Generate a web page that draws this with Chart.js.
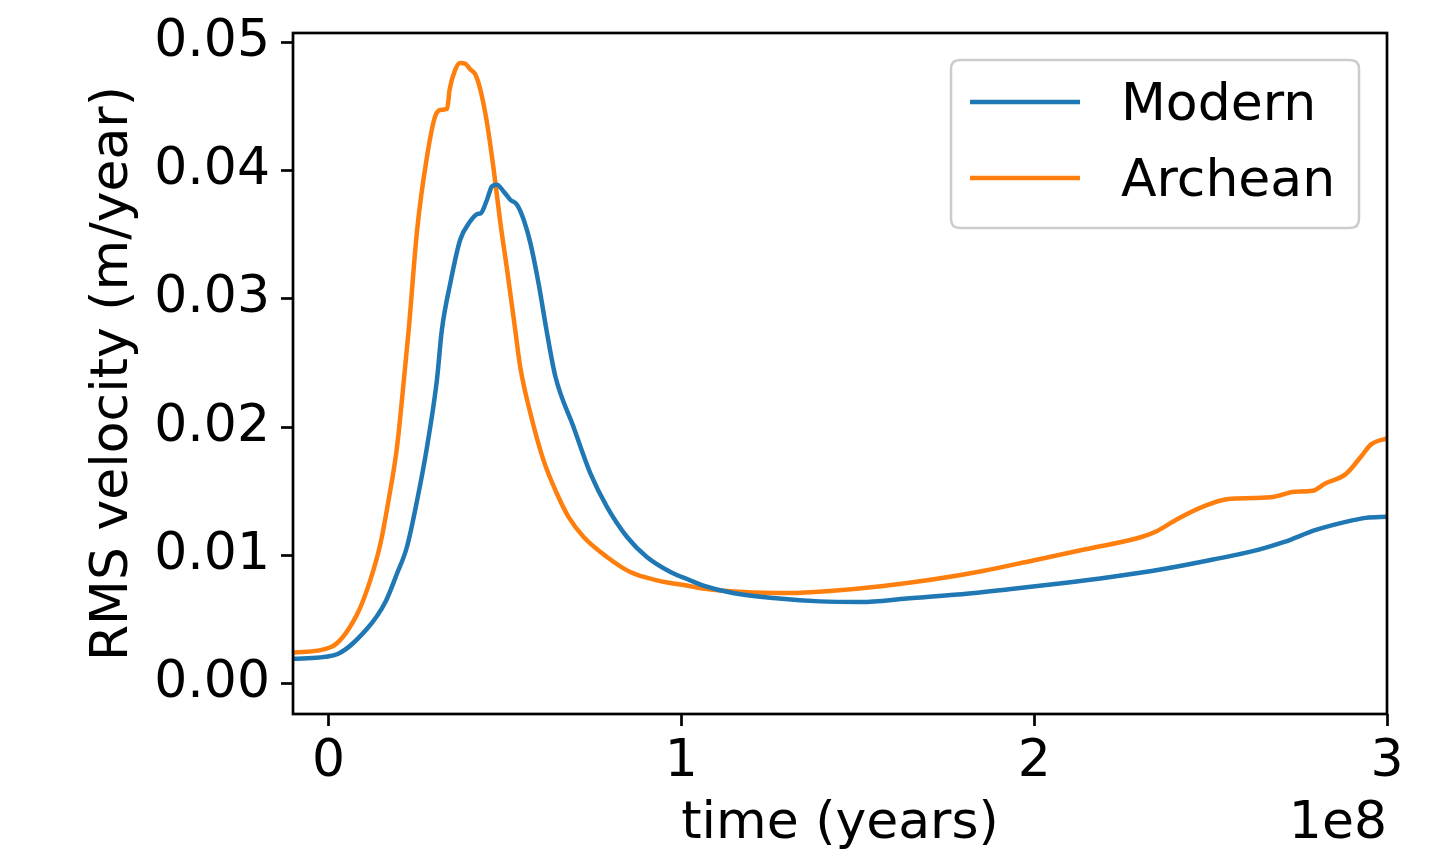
<!DOCTYPE html>
<html>
<head>
<meta charset="utf-8">
<script src="https://cdn.jsdelivr.net/npm/chart.js@4/dist/chart.umd.min.js"></script>
<style>
  html, body { margin: 0; padding: 0; background: #ffffff; }
  #wrap { width: 1429px; height: 860px; }
</style>
</head>
<body>
<div id="wrap"><canvas id="c" width="1429" height="860"></canvas></div>
<script>
// time in units of 1e8 years
const timeModern = [-0.100, 0.014, 0.109, 0.161, 0.194, 0.222, 0.251, 0.279, 0.307, 0.321, 0.345, 0.373, 0.401, 0.421, 0.432, 0.449, 0.463, 0.477, 0.496, 0.515, 0.534, 0.553, 0.572, 0.595, 0.619, 0.643, 0.694, 0.742, 0.789, 0.846, 0.902, 0.969, 1.025, 1.060, 1.146, 1.277, 1.392, 1.508, 1.639, 1.783, 1.928, 2.072, 2.217, 2.362, 2.507, 2.637, 2.709, 2.796, 2.883, 2.940, 3.000];
const rmsModern = [0.00195, 0.00221, 0.00429, 0.00637, 0.00859, 0.01066, 0.01431, 0.01847, 0.02368, 0.02758, 0.03123, 0.03461, 0.03603, 0.03661, 0.03669, 0.03773, 0.03877, 0.03890, 0.03838, 0.03773, 0.03734, 0.03617, 0.03435, 0.03123, 0.02735, 0.02393, 0.02003, 0.01639, 0.01379, 0.01144, 0.00988, 0.00871, 0.00806, 0.00767, 0.00707, 0.00664, 0.00642, 0.00637, 0.00664, 0.00695, 0.00736, 0.00781, 0.00832, 0.00892, 0.00968, 0.01046, 0.01105, 0.01197, 0.01262, 0.01293, 0.01301];

const timeArchean = [-0.100, 0.007, 0.080, 0.118, 0.147, 0.170, 0.194, 0.217, 0.227, 0.251, 0.279, 0.302, 0.321, 0.336, 0.343, 0.359, 0.373, 0.387, 0.402, 0.416, 0.430, 0.449, 0.468, 0.487, 0.506, 0.529, 0.543, 0.572, 0.609, 0.647, 0.680, 0.723, 0.789, 0.855, 0.931, 1.025, 1.060, 1.175, 1.306, 1.421, 1.566, 1.711, 1.855, 2.000, 2.145, 2.304, 2.347, 2.405, 2.477, 2.550, 2.622, 2.680, 2.738, 2.789, 2.825, 2.883, 2.926, 2.955, 3.000];
const rmsArchean = [0.00242, 0.00286, 0.00537, 0.00806, 0.01093, 0.01431, 0.01847, 0.02472, 0.02758, 0.03539, 0.04111, 0.04423, 0.04475, 0.04481, 0.04632, 0.04788, 0.04840, 0.04835, 0.04788, 0.04749, 0.04632, 0.04372, 0.04007, 0.03591, 0.03226, 0.02758, 0.02472, 0.02108, 0.01743, 0.01483, 0.01301, 0.01144, 0.00988, 0.00871, 0.00806, 0.00760, 0.00742, 0.00715, 0.00707, 0.00723, 0.00760, 0.00812, 0.00879, 0.00963, 0.01048, 0.01144, 0.01189, 0.01283, 0.01379, 0.01441, 0.01447, 0.01457, 0.01496, 0.01504, 0.01561, 0.01634, 0.01769, 0.01866, 0.01913];

const seriesNames = ['Modern', 'Archean'];
const xTicks = [0, 1, 2, 3];
const yTicks = [0.00, 0.01, 0.02, 0.03, 0.04, 0.05];
const xTitle = 'time (years)';
const yTitle = 'RMS velocity (m/year)';
const xOffsetText = '1e8';

const FONT = 'DejaVu Sans';
const FS = 52;
const BLUE = '#1f77b4';
const ORANGE = '#ff7f0e';

function toPoints(xs, ys) { return xs.map((x, i) => ({ x: x, y: ys[i] })); }

const framePlugin = {
  id: 'frameLegend',
  afterDatasetsDraw(chart) {
    const ctx = chart.ctx;
    const a = chart.chartArea;
    ctx.save();
    // frame
    ctx.strokeStyle = '#000';
    ctx.lineWidth = 2.7;
    ctx.strokeRect(a.left, a.top, a.right - a.left, a.bottom - a.top);

    // legend box
    const bx = 951, by = 60, bw = 408, bh = 168, r = 9;
    ctx.beginPath();
    ctx.moveTo(bx + r, by);
    ctx.lineTo(bx + bw - r, by);
    ctx.quadraticCurveTo(bx + bw, by, bx + bw, by + r);
    ctx.lineTo(bx + bw, by + bh - r);
    ctx.quadraticCurveTo(bx + bw, by + bh, bx + bw - r, by + bh);
    ctx.lineTo(bx + r, by + bh);
    ctx.quadraticCurveTo(bx, by + bh, bx, by + bh - r);
    ctx.lineTo(bx, by + r);
    ctx.quadraticCurveTo(bx, by, bx + r, by);
    ctx.closePath();
    ctx.fillStyle = 'rgba(255,255,255,0.8)';
    ctx.fill();
    ctx.strokeStyle = '#cccccc';
    ctx.lineWidth = 2.5;
    ctx.stroke();

    const rowsY = [102, 178];
    chart.data.datasets.forEach((ds, i) => {
      ctx.strokeStyle = ds.borderColor;
      ctx.lineWidth = 4.5;
      ctx.beginPath();
      ctx.moveTo(970, rowsY[i]);
      ctx.lineTo(1080, rowsY[i]);
      ctx.stroke();
      ctx.fillStyle = '#000';
      ctx.font = FS + 'px "' + FONT + '"';
      ctx.textAlign = 'left';
      ctx.textBaseline = 'middle';
      ctx.fillText(ds.label, 1121, rowsY[i] + 4);
    });

    // offset text
    ctx.fillStyle = '#000';
    ctx.font = FS + 'px "' + FONT + '"';
    ctx.textAlign = 'right';
    ctx.textBaseline = 'middle';
    ctx.fillText(xOffsetText, a.right, 824);
    ctx.restore();
  }
};

new Chart(document.getElementById('c'), {
  type: 'line',
  data: {
    datasets: [
      { label: seriesNames[0], data: toPoints(timeModern, rmsModern), borderColor: BLUE, backgroundColor: BLUE,
        borderWidth: 4.5, pointRadius: 0, fill: false, cubicInterpolationMode: 'monotone' },
      { label: seriesNames[1], data: toPoints(timeArchean, rmsArchean), borderColor: ORANGE, backgroundColor: ORANGE,
        borderWidth: 4.5, pointRadius: 0, fill: false, cubicInterpolationMode: 'monotone' }
    ]
  },
  options: {
    responsive: false,
    devicePixelRatio: 1,
    animation: false,
    layout: { padding: { left: 0, right: 42, top: 33, bottom: 0 } },
    plugins: { legend: { display: false }, tooltip: { enabled: false } },
    scales: {
      x: {
        type: 'linear',
        min: -0.1009,
        max: 3,
        afterBuildTicks(s) { s.ticks = xTicks.map(v => ({ value: v })); },
        afterFit(s) { s.height = 146; s.paddingLeft = 0; s.paddingRight = 0; },
        grid: { display: true, drawOnChartArea: false, drawTicks: true, tickLength: 12, tickWidth: 2.7, tickColor: '#000' },
        border: { display: false },
        ticks: { color: '#000', font: { family: FONT, size: FS }, padding: 5, maxRotation: 0,
                 callback: (v) => String(v) },
        title: { display: true, text: xTitle, color: '#000', font: { family: FONT, size: FS }, padding: { top: 0, bottom: 4 } }
      },
      y: {
        type: 'linear',
        min: -0.00236,
        max: 0.05073,
        afterBuildTicks(s) { s.ticks = yTicks.map(v => ({ value: v })); },
        afterFit(s) { s.width = 293; s.paddingTop = 0; s.paddingBottom = 0; },
        grid: { display: true, drawOnChartArea: false, drawTicks: true, tickLength: 12, tickWidth: 2.7, tickColor: '#000' },
        border: { display: false },
        ticks: { color: '#000', font: { family: FONT, size: FS }, padding: 11,
                 callback: (v) => Number(v).toFixed(2) },
        title: { display: true, text: yTitle, color: '#000', font: { family: FONT, size: FS }, padding: { top: 82, bottom: 0 } }
      }
    }
  },
  plugins: [framePlugin]
});
</script>
</body>
</html>
